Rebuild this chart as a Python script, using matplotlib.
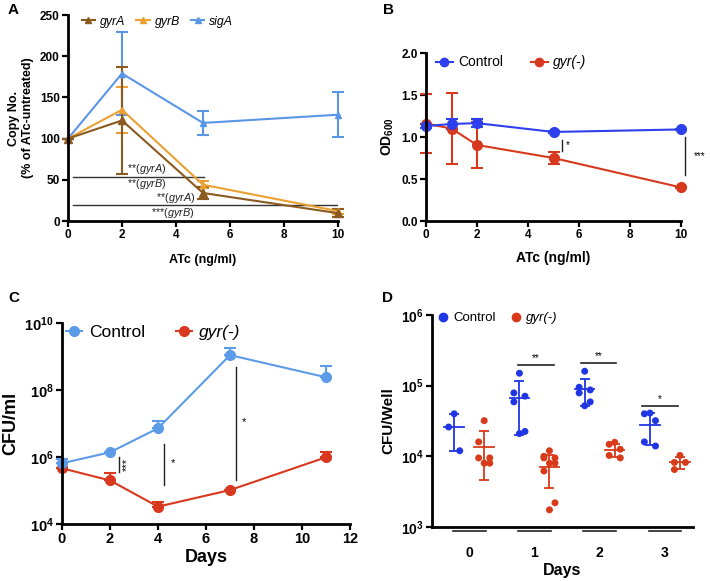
import numpy as np
import matplotlib
matplotlib.use("Agg")
import matplotlib.pyplot as plt
from matplotlib.lines import Line2D

plt.rcParams['font.family'] = ['Liberation Sans', 'DejaVu Sans']
plt.rcParams['mathtext.fontset'] = 'custom'
plt.rcParams['mathtext.it'] = 'Liberation Sans:italic'
plt.rcParams['mathtext.rm'] = 'Liberation Sans'
plt.rcParams['mathtext.bf'] = 'Liberation Sans:bold'

# ---- panel A data
atc_a = [0, 2, 5, 10]
gyrA_mean = [100, 122, 34, 9.5]
gyrA_sd = [0, 65, 7, 5]
gyrB_mean = [100, 135, 44, 12]
gyrB_sd = [0, 28, 4, 3]
sigA_mean = [100, 179, 119, 129]
sigA_sd = [0, 50, 14.5, 27]

# ---- panel B data
atc_b = [0, 1, 2, 5, 10]
od_ctrl = [1.13, 1.155, 1.165, 1.06, 1.09]
od_ctrl_sd = [0.02, 0.06, 0.05, 0.01, 0.01]
od_gyr = [1.16, 1.10, 0.905, 0.75, 0.40]
od_gyr_sd = [0.35, 0.42, 0.27, 0.07, 0.01]

# ---- panel C data
days_c = [0, 2, 4, 7, 11]
cfu_ctrl = [6.5e5, 1.38e6, 7.2e6, 1.1e9, 2.4e8]
cfu_ctrl_up = [8.7e5, 1.38e6, 1.2e7, 1.8e9, 5.2e8]
cfu_gyr = [4.6e5, 2.0e5, 3.3e4, 1.03e5, 9.8e5]
cfu_gyr_up = [4.6e5, 3.4e5, 4.6e4, 1.03e5, 1.38e6]

# ---- panel D data (CFU/well per day)
days_d = ['0', '1', '2', '3']
d_ctrl_pts = [
    [4.0e4, 2.6e4, 1.2e4],
    [1.5e5, 7.1e4, 7.9e4, 5.9e4, 2.1e4, 2.25e4],
    [1.6e5, 8.7e4, 9.5e4, 7.9e4, 5.2e4, 5.9e4],
    [4.0e4, 4.1e4, 3.2e4, 1.4e4, 1.6e4],
]
d_ctrl_mean = [2.6e4, 6.8e4, 8.9e4, 2.8e4]
d_ctrl_sd = [1.4e4, 4.8e4, 3.7e4, 1.35e4]
d_gyr_pts = [
    [3.2e4, 1.6e4, 9.5e3, 9.5e3, 8e3, 8e3],
    [1.2e4, 1.0e4, 9.5e3, 9.5e3, 8e3, 8e3, 6.2e3, 1.75e3, 2.2e3],
    [1.48e4, 1.58e4, 1.26e4, 9.5e3, 1.03e4],
    [1.03e4, 8.2e3, 8.2e3, 6.5e3],
]
d_gyr_mean = [1.37e4, 7.1e3, 1.24e4, 8.2e3]
d_gyr_sd = [9.0e3, 3.5e3, 2.6e3, 1.6e3]

W, H = 710, 581
fig = plt.figure(figsize=(W / 100, H / 100), dpi=100)


def px_axes(l, t, r, b):
    return fig.add_axes([l / W, 1 - b / H, (r - l) / W, (b - t) / H])


def style(ax, fs):
    for s in ['top', 'right']:
        ax.spines[s].set_visible(False)
    for s in ['left', 'bottom']:
        ax.spines[s].set_linewidth(2)
    ax.tick_params(width=1.6, length=4, labelsize=fs, pad=2)
    for lab in ax.get_xticklabels() + ax.get_yticklabels():
        lab.set_fontweight('bold')


# ================= A
c_gA, c_gB, c_sA = '#8B5A1E', '#EBA032', '#5A96E6'
ax = px_axes(68, 15, 338, 221)
ax.errorbar(atc_a, sigA_mean, yerr=sigA_sd, color=c_sA, marker='^', ms=4,
            lw=1.5, capsize=4, capthick=1.5, clip_on=False)
ax.errorbar(atc_a, gyrB_mean, yerr=gyrB_sd, color=c_gB, marker='^', ms=4,
            lw=1.5, capsize=4, capthick=1.5, clip_on=False)
ax.errorbar(atc_a, gyrA_mean, yerr=gyrA_sd, color=c_gA, marker='^', ms=6,
            lw=1.5, capsize=4, capthick=1.5, clip_on=False)
ax.set_xlim(0, 10)
ax.set_ylim(0, 250)
ax.set_xticks([0, 2, 4, 6, 8, 10])
ax.set_yticks([0, 50, 100, 150, 200, 250])
style(ax, 8.5)
ax.set_xlabel('ATc (ng/ml)', fontsize=9, fontweight='bold', labelpad=9)
ax.set_ylabel('Copy No.\n(% of ATc-untreated)', fontsize=9, fontweight='bold', labelpad=4)
ax.plot([0.2, 5.05], [54, 54], color='#333333', lw=1)
ax.plot([0.2, 9.95], [19, 19], color='#333333', lw=1)
ax.text(2.9, 63.5, r'**$\mathit{(gyrA)}$', fontsize=7.8, ha='center', va='center', color='#222222')
ax.text(2.9, 45.5, r'**$\mathit{(gyrB)}$', fontsize=7.8, ha='center', va='center', color='#222222')
ax.text(4.0, 27.5, r'**$\mathit{(gyrA)}$', fontsize=7.8, ha='center', va='center', color='#222222')
ax.text(3.9, 10, r'***$\mathit{(gyrB)}$', fontsize=7.8, ha='center', va='center', color='#222222')
hA = [Line2D([], [], color=c_gA, marker='^', ms=5, lw=1.5),
      Line2D([], [], color=c_gB, marker='^', ms=4, lw=1.5),
      Line2D([], [], color=c_sA, marker='^', ms=4, lw=1.5)]
ax.legend(hA, ['gyrA', 'gyrB', 'sigA'], loc='upper left', bbox_to_anchor=(0.01, 1.05),
          ncol=3, frameon=False, handlelength=1.1, handletextpad=0.4, columnspacing=0.9,
          prop={'style': 'italic', 'size': 8.8})
fig.text(8 / W, 1 - 10 / H, 'A', fontsize=11, fontweight='bold', va='center')

# ================= B
c_bc, c_br = '#2E3FEC', '#D6391E'
ax = px_axes(426, 53, 681, 221)
ax.errorbar(atc_b, od_gyr, yerr=od_gyr_sd, color=c_br, marker='o', ms=7,
            lw=1.5, capsize=4, capthick=1.5, clip_on=False)
ax.errorbar(atc_b, od_ctrl, yerr=od_ctrl_sd, color=c_bc, marker='o', ms=7,
            lw=1.5, capsize=4, capthick=1.5, clip_on=False)
ax.set_xlim(0, 10)
ax.set_ylim(0, 2)
ax.set_xticks([0, 2, 4, 6, 8, 10])
ax.set_yticks([0, 0.5, 1.0, 1.5, 2.0])
ax.set_yticklabels(['0.0', '0.5', '1.0', '1.5', '2.0'])
style(ax, 8.5)
ax.set_xlabel('ATc (ng/ml)', fontsize=10, fontweight='bold', labelpad=7)
ax.set_ylabel(r'OD$_{\mathbf{600}}$', fontsize=10, fontweight='bold', labelpad=4)
ax.plot([5.32, 5.32], [0.83, 0.96], color='#222222', lw=1, clip_on=False)
ax.text(5.55, 0.9, '*', fontsize=7, ha='center', va='center')
ax.plot([10.16, 10.16], [0.55, 1.0], color='#222222', lw=1, clip_on=False)
ax.text(10.75, 0.77, '***', fontsize=7, ha='center', va='center')
hB = [Line2D([], [], color=c_bc, marker='o', ms=6, lw=1.5),
      Line2D([], [], color=c_br, marker='o', ms=6, lw=1.5)]
ax.legend(hB, ['Control', 'gyr(-)'], loc='upper left', bbox_to_anchor=(-0.01, 1.06),
          ncol=2, frameon=False, handlelength=1.2, handletextpad=0.4, columnspacing=2.0,
          fontsize=10)
leg = ax.get_legend()
leg.get_texts()[1].set_style('italic')
fig.text(383 / W, 1 - 10 / H, 'B', fontsize=11, fontweight='bold', va='center')

# ================= C
c_cc, c_cr = '#5B9BE8', '#D8381E'
ax = px_axes(62, 323, 350, 524)
ax.set_yscale('log')
ctrl_err = [np.zeros(len(cfu_ctrl)), np.array(cfu_ctrl_up) - np.array(cfu_ctrl)]
gyr_err = [np.zeros(len(cfu_gyr)), np.array(cfu_gyr_up) - np.array(cfu_gyr)]
ax.errorbar(days_c, cfu_gyr, yerr=gyr_err, color=c_cr, marker='o', ms=7,
            lw=1.5, capsize=4, capthick=1.5, clip_on=False)
ax.errorbar(days_c, cfu_ctrl, yerr=ctrl_err, color=c_cc, marker='o', ms=7,
            lw=1.5, capsize=4, capthick=1.5, clip_on=False)
ax.set_xlim(0, 12)
ax.set_ylim(1e4, 1e10)
ax.set_xticks([0, 2, 4, 6, 8, 10, 12])
ax.set_yticks([1e4, 1e6, 1e8, 1e10])
ax.set_yticklabels([r'10$^{\mathbf{4}}$', r'10$^{\mathbf{6}}$', r'10$^{\mathbf{8}}$', r'10$^{\mathbf{10}}$'])
ax.yaxis.set_minor_locator(matplotlib.ticker.NullLocator())
style(ax, 10.5)
ax.set_xlabel('Days', fontsize=13, fontweight='bold', labelpad=2)
ax.set_ylabel('CFU/ml', fontsize=13, fontweight='bold', labelpad=4)
ax.plot([2.375, 2.375], [3.6e5, 1.0e6], color='#222222', lw=1)
ax.text(2.72, 6.1e5, '***', fontsize=8, rotation=90, ha='center', va='center')
ax.plot([4.25, 4.25], [1.45e5, 2.45e6], color='#222222', lw=1)
ax.text(4.64, 6.4e5, '*', fontsize=8, ha='center', va='center')
ax.plot([7.24, 7.24], [2.0e5, 4.8e8], color='#222222', lw=1)
ax.text(7.6, 1.1e7, '*', fontsize=8, ha='center', va='center')
hC = [Line2D([], [], color=c_cc, marker='o', ms=7, lw=1.5),
      Line2D([], [], color=c_cr, marker='o', ms=7, lw=1.5)]
ax.legend(hC, ['Control', 'gyr(-)'], loc='upper left', bbox_to_anchor=(-0.04, 1.07),
          ncol=2, frameon=False, handlelength=0.9, handletextpad=0.4, columnspacing=1.8,
          fontsize=12.5)
ax.get_legend().get_texts()[1].set_style('italic')
fig.text(8 / W, 1 - 298 / H, 'C', fontsize=11, fontweight='bold', va='center')

# ================= D
c_dc, c_dr = '#2036E4', '#D83A1A'
ax = px_axes(432, 315, 693, 527)
ax.set_yscale('log')
off = 0.23
for i in range(len(days_d)):
    for pts, mean, sd, col, dx in [(d_ctrl_pts[i], d_ctrl_mean[i], d_ctrl_sd[i], c_dc, -off),
                                   (d_gyr_pts[i], d_gyr_mean[i], d_gyr_sd[i], c_dr, off)]:
        n = len(pts)
        order = np.argsort(pts)[::-1]
        xs = np.zeros(n)
        # simple beeswarm: alternate left/right for close values
        for k, j in enumerate(order):
            xs[j] = [0, -0.085, 0.085, -0.085, 0.085, 0, -0.085, 0.085, 0][k % 9]
        ax.scatter(i + dx + xs, pts, s=25, color=col, zorder=3, edgecolors='none', clip_on=False)
        ax.plot([i + dx - 0.15, i + dx + 0.15], [mean, mean], color=col, lw=1.3)
        ax.errorbar([i + dx], [mean], yerr=[[sd], [sd]], color=col, lw=1.3, capsize=3.5,
                    capthick=1.3, fmt='none')
ax.set_xlim(-0.57, 3.43)
ax.set_ylim(1e3, 1e6)
ax.set_yticks([1e3, 1e4, 1e5, 1e6])
ax.set_yticklabels([r'10$^{\mathbf{3}}$', r'10$^{\mathbf{4}}$', r'10$^{\mathbf{5}}$', r'10$^{\mathbf{6}}$'])
ax.yaxis.set_minor_locator(matplotlib.ticker.NullLocator())
ax.set_xticks(range(len(days_d)))
ax.set_xticklabels(days_d)
style(ax, 10)
ax.tick_params(axis='x', length=0, pad=14)
ax.set_xlabel('Days', fontsize=11.5, fontweight='bold', labelpad=2)
ax.set_ylabel('CFU/Well', fontsize=11, fontweight='bold', labelpad=4)
for i in range(len(days_d)):
    ax.plot([i - 0.25, i + 0.25], [0.88e3, 0.88e3], color='#222222', lw=1.2, clip_on=False)
for x0, x1, yv, lab in [(0.75, 1.30, 1.95e5, '**'), (1.72, 2.25, 2.1e5, '**'), (2.65, 3.2, 5.2e4, '*')]:
    ax.plot([x0, x1], [yv, yv], color='#222222', lw=1.2)
    ax.text((x0 + x1) / 2, yv * 1.07, lab, fontsize=7, ha='center', va='bottom')
hD = [Line2D([], [], color=c_dc, marker='o', ms=6, lw=0),
      Line2D([], [], color=c_dr, marker='o', ms=6, lw=0)]
ax.legend(hD, ['Control', 'gyr(-)'], loc='upper left', bbox_to_anchor=(-0.02, 1.07),
          ncol=2, frameon=False, handlelength=0.7, handletextpad=0.4, columnspacing=1.2,
          fontsize=9.5)
ax.get_legend().get_texts()[1].set_style('italic')
fig.text(382 / W, 1 - 298 / H, 'D', fontsize=11, fontweight='bold', va='center')

fig.savefig('out.png', dpi=100)
